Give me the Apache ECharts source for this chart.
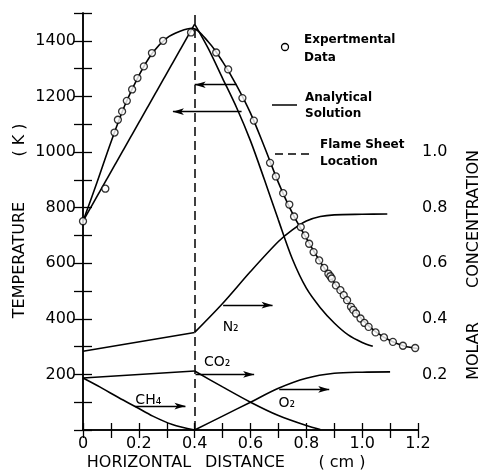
<!DOCTYPE html>
<html>
<head>
<meta charset="utf-8">
<script src="https://cdn.jsdelivr.net/npm/echarts@6/dist/echarts.min.js"></script>
<style>
  html, body { margin: 0; padding: 0; background: #fff; }
  #chart { width: 481px; height: 472px; }
</style>
</head>
<body>
<div id="chart"></div>
<script>
// measured points: horizontal distance (cm) and temperature (K)
const expX = [0, 0.08, 0.113, 0.125, 0.14, 0.157, 0.176, 0.195, 0.218, 0.247, 0.287, 0.387,
  0.477, 0.52, 0.571, 0.612, 0.67, 0.691, 0.717, 0.739, 0.756, 0.78, 0.796, 0.81, 0.826,
  0.846, 0.864, 0.879, 0.886, 0.891, 0.906, 0.922, 0.934, 0.946, 0.96, 0.968, 0.978, 0.994,
  1.008, 1.023, 1.048, 1.078, 1.11, 1.146, 1.19];
const expT = [751, 868, 1070, 1116, 1146, 1184, 1225, 1266, 1308, 1356, 1400, 1430,
  1358, 1297, 1194, 1113, 961, 912, 852, 811, 768, 730, 700, 670, 640,
  610, 583, 562, 553, 545, 520, 503, 485, 467, 443, 432, 419, 401,
  385, 371, 351, 333, 317, 303, 295];

// analytical temperature (K), curve through the data
const tempFit = [[0, 751], [0.05, 890], [0.1, 1035], [0.15, 1168], [0.2, 1275], [0.25, 1358],
  [0.3, 1410], [0.35, 1435], [0.39, 1445], [0.45, 1395], [0.5, 1325], [0.55, 1240],
  [0.6, 1140], [0.65, 1018], [0.7, 890], [0.75, 780], [0.8, 690], [0.85, 605], [0.9, 530],
  [0.95, 460], [1.0, 398], [1.05, 352], [1.1, 322], [1.15, 302], [1.2, 293]];
// analytical temperature (K), flame sheet solution
const tempSheetFuel = [[0, 751], [0.4, 1460]];
const tempSheetAir = [[0.4, 1460], [0.45, 1370], [0.5, 1265], [0.55, 1160], [0.6, 1040],
  [0.65, 900], [0.7, 755], [0.75, 615], [0.8, 510], [0.85, 440], [0.9, 385], [0.95, 342],
  [1.0, 315], [1.038, 301]];

// molar concentrations
const n2Fuel = [[0, 0.283], [0.4, 0.351]];
const n2Air = [[0.4, 0.351], [0.5, 0.455], [0.6, 0.57], [0.7, 0.678], [0.75, 0.72],
  [0.8, 0.752], [0.85, 0.768], [0.9, 0.774], [1.0, 0.776], [1.09, 0.777]];
const co2Fuel = [[0, 0.187], [0.4, 0.212]];
const co2Air = [[0.4, 0.212], [0.5, 0.155], [0.6, 0.1], [0.7, 0.052], [0.8, 0.016], [0.85, 0.002]];
const ch4Fuel = [[0, 0.187], [0.06, 0.155], [0.13, 0.115], [0.19, 0.083], [0.25, 0.05],
  [0.32, 0.02], [0.4, 0]];
const o2Air = [[0.4, 0], [0.5, 0.05], [0.6, 0.1], [0.7, 0.15], [0.8, 0.186], [0.9, 0.204],
  [1.0, 0.208], [1.1, 0.209]];

const flameSheetX = 0.4;

const xTickLabels = ['0', '0.2', '0.4', '0.6', '0.8', '1.0', '1.2'];
const tempTickLabels = ['200', '400', '600', '800', '1000', '1200', '1400'];
const concTickLabels = ['0.2', '0.4', '0.6', '0.8', '1.0'];

const FONT = '"DejaVu Sans", sans-serif';
const chart = echarts.init(document.getElementById('chart'));

function curve(data, yAxisIndex, smooth, extra) {
  return Object.assign({
    type: 'line', data: data, yAxisIndex: yAxisIndex, smooth: smooth,
    symbol: 'none', silent: true,
    lineStyle: { color: '#000', width: 1.6 }
  }, extra || {});
}

function arrows(list) {
  return {
    silent: true, animation: false,
    lineStyle: { color: '#000', width: 1.4, type: 'solid' },
    label: { show: false },
    symbolSize: [5, 11],
    data: list.map(a => [
      { coord: [a[0], a[2]], symbol: a[3] === 'left' ? 'arrow' : 'none' },
      { coord: [a[1], a[2]], symbol: a[3] === 'left' ? 'none' : 'arrow' }
    ])
  };
}

function tag(name, x, y) {
  return {
    silent: true, symbol: 'circle', symbolSize: 1,
    itemStyle: { color: 'transparent' },
    label: { show: true, position: 'inside', color: '#000', fontSize: 14, fontFamily: FONT,
      formatter: p => p.name },
    data: [{ name: name, coord: [x, y] }]
  };
}

const axisStyle = { lineStyle: { color: '#000', width: 1.5 } };
const tickStyle = { lineStyle: { color: '#000', width: 1.3 } };

const option = {
  animation: false,
  backgroundColor: '#fff',
  grid: { left: 83, right: 63, top: 13, bottom: 42 },
  xAxis: [{
    type: 'value', min: 0, max: 1.2, interval: 0.1,
    axisLine: axisStyle, splitLine: { show: false },
    axisTick: Object.assign({ inside: true, length: 7 }, tickStyle),
    axisLabel: {
      color: '#000', fontSize: 16, fontFamily: FONT, margin: 6,
      formatter: v => { const i = Math.round(v * 10); return i % 2 === 0 ? xTickLabels[i / 2] : ''; }
    }
  }, {
    type: 'value', position: 'top', min: 0, max: 1.2, interval: 0.1,
    axisLine: axisStyle, splitLine: { show: false },
    axisTick: Object.assign({ inside: true, length: 8 }, tickStyle),
    axisLabel: { show: false }
  }],
  yAxis: [{
    type: 'value', min: 0, max: 1500, interval: 100,
    axisLine: { show: true, lineStyle: axisStyle.lineStyle }, splitLine: { show: false },
    axisTick: Object.assign({ show: true, inside: true, length: 9 }, tickStyle),
    axisLabel: {
      color: '#000', fontSize: 16, fontFamily: FONT, margin: 7,
      formatter: v => {
        const i = Math.round(v / 100);
        return (i % 2 === 0 && i >= 2 && i <= 14) ? tempTickLabels[i / 2 - 1] : '';
      }
    }
  }, {
    type: 'value', position: 'right', min: 0, max: 1.5, interval: 0.1,
    axisLine: { show: true, lineStyle: axisStyle.lineStyle }, splitLine: { show: false },
    axisTick: Object.assign({ show: true, inside: true, length: 9 }, tickStyle),
    axisLabel: {
      color: '#000', fontSize: 16, fontFamily: FONT, margin: 4,
      formatter: v => {
        const i = Math.round(v * 10);
        return (i % 2 === 0 && i >= 2 && i <= 10) ? concTickLabels[i / 2 - 1] : '';
      }
    }
  }],
  series: [
    curve(tempFit, 0, 0.35),
    curve(tempSheetFuel, 0, false, {
      markLine: {
        silent: true, symbol: 'none', label: { show: false },
        lineStyle: { color: '#000', width: 1.5, type: [9, 5] },
        data: [{ xAxis: flameSheetX }]
      }
    }),
    curve(tempSheetAir, 0, 0.3, {
      markLine: arrows([[0.4, 0.55, 1242, 'left'], [0.322, 0.568, 1145, 'left']])
    }),
    curve(n2Fuel, 1, false),
    curve(n2Air, 1, 0.3, {
      markLine: arrows([[0.502, 0.679, 0.449, 'right']]),
      markPoint: tag('N₂', 0.529, 0.37)
    }),
    curve(co2Fuel, 1, false),
    curve(co2Air, 1, 0.3, {
      markLine: arrows([[0.403, 0.613, 0.2, 'right']]),
      markPoint: tag('CO₂', 0.481, 0.245)
    }),
    curve(ch4Fuel, 1, 0.3, {
      markLine: arrows([[0.187, 0.367, 0.086, 'right']]),
      markPoint: tag('CH₄', 0.234, 0.108)
    }),
    curve(o2Air, 1, 0.3, {
      markLine: arrows([[0.703, 0.882, 0.146, 'right']]),
      markPoint: tag('O₂', 0.73, 0.097)
    }),
    {
      type: 'scatter', yAxisIndex: 0, silent: true, z: 5,
      data: expX.map((x, i) => [x, expT[i]]),
      symbol: 'circle', symbolSize: 7,
      itemStyle: { color: '#fff', borderColor: '#000', borderWidth: 1.3 }
    }
  ],
  graphic: [
    // legend
    { type: 'circle', shape: { cx: 285, cy: 47, r: 3.5 }, style: { fill: '#fff', stroke: '#000', lineWidth: 1.3 } },
    { type: 'text', x: 304, y: 40, style: { text: 'Expertmental', font: 'bold 12px ' + FONT, fill: '#000', verticalAlign: 'middle', textVerticalAlign: 'middle' } },
    { type: 'text', x: 304, y: 58, style: { text: 'Data', font: 'bold 12px ' + FONT, fill: '#000', verticalAlign: 'middle', textVerticalAlign: 'middle' } },
    { type: 'line', shape: { x1: 272, y1: 105, x2: 297, y2: 105 }, style: { stroke: '#000', lineWidth: 1.5 } },
    { type: 'text', x: 305, y: 98, style: { text: 'Analytical', font: 'bold 12px ' + FONT, fill: '#000', verticalAlign: 'middle', textVerticalAlign: 'middle' } },
    { type: 'text', x: 305, y: 114, style: { text: 'Solution', font: 'bold 12px ' + FONT, fill: '#000', verticalAlign: 'middle', textVerticalAlign: 'middle' } },
    { type: 'line', shape: { x1: 275, y1: 154, x2: 313, y2: 154 }, style: { stroke: '#000', lineWidth: 1.5, lineDash: [8, 5] } },
    { type: 'text', x: 320, y: 145, style: { text: 'Flame Sheet', font: 'bold 12px ' + FONT, fill: '#000', verticalAlign: 'middle', textVerticalAlign: 'middle' } },
    { type: 'text', x: 320, y: 162, style: { text: 'Location', font: 'bold 12px ' + FONT, fill: '#000', verticalAlign: 'middle', textVerticalAlign: 'middle' } },
    // axis titles
    { type: 'text', x: 139, y: 463, style: { text: 'HORIZONTAL', font: '16px ' + FONT, fill: '#000', align: 'center', textAlign: 'center', verticalAlign: 'middle', textVerticalAlign: 'middle' } },
    { type: 'text', x: 245, y: 463, style: { text: 'DISTANCE', font: '16px ' + FONT, fill: '#000', align: 'center', textAlign: 'center', verticalAlign: 'middle', textVerticalAlign: 'middle' } },
    { type: 'text', x: 342, y: 463, style: { text: '( cm )', font: '16px ' + FONT, fill: '#000', align: 'center', textAlign: 'center', verticalAlign: 'middle', textVerticalAlign: 'middle' } },
    { type: 'text', x: 20, y: 260, rotation: Math.PI / 2, style: { text: 'TEMPERATURE', font: '16px ' + FONT, fill: '#000', align: 'center', textAlign: 'center', verticalAlign: 'middle', textVerticalAlign: 'middle' } },
    { type: 'text', x: 20, y: 140, rotation: Math.PI / 2, style: { text: '( K )', font: '16px ' + FONT, fill: '#000', align: 'center', textAlign: 'center', verticalAlign: 'middle', textVerticalAlign: 'middle' } },
    { type: 'text', x: 474, y: 351, rotation: Math.PI / 2, style: { text: 'MOLAR', font: '16px ' + FONT, fill: '#000', align: 'center', textAlign: 'center', verticalAlign: 'middle', textVerticalAlign: 'middle' } },
    { type: 'text', x: 474, y: 219, rotation: Math.PI / 2, style: { text: 'CONCENTRATION', font: '16px ' + FONT, fill: '#000', align: 'center', textAlign: 'center', verticalAlign: 'middle', textVerticalAlign: 'middle' } }
  ]
};

chart.setOption(option);
</script>
</body>
</html>
